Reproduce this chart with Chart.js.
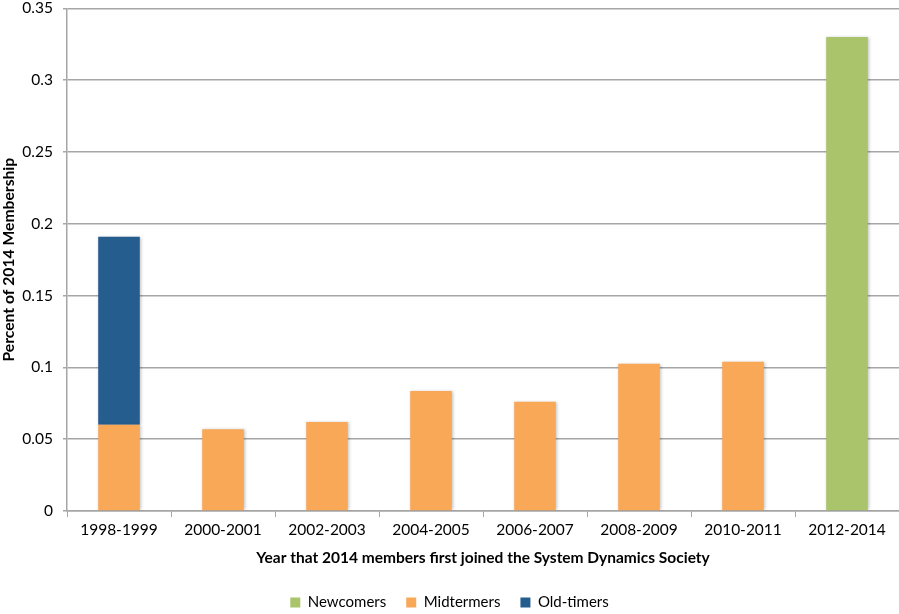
<!DOCTYPE html>
<html><head><meta charset="utf-8">
<script src="https://cdn.jsdelivr.net/npm/chart.js@4/dist/chart.umd.min.js"></script>
<style>html,body{margin:0;padding:0;background:#fff;overflow:hidden}#wrap{position:relative;width:899px;height:614px;overflow:hidden}#c{position:absolute;left:0;top:-11px}</style>
</head><body><div id="wrap"><canvas id="c" width="899" height="631"></canvas></div>
<script>
const categories = ["1998-1999","2000-2001","2002-2003","2004-2005","2006-2007","2008-2009","2010-2011","2012-2014"];
const newcomers  = [0, 0, 0, 0, 0, 0, 0, 0.33];
const midtermers = [0.06, 0.057, 0.062, 0.0835, 0.076, 0.1025, 0.104, 0];
const oldtimers  = [0.131, 0, 0, 0, 0, 0, 0, 0];
const yTicks = [0, 0.05, 0.1, 0.15, 0.2, 0.25, 0.3, 0.35];

const FONT = "Lato, 'Open Sans', sans-serif";
const shadowPlugin = {
  id: 'barShadow',
  beforeDatasetsDraw(chart) { const c = chart.ctx; c.save(); c.shadowColor = 'rgba(0,0,0,0.25)'; c.shadowBlur = 3; c.shadowOffsetX = 1; c.shadowOffsetY = 0; },
  afterDatasetsDraw(chart) { chart.ctx.restore(); }
};

new Chart(document.getElementById('c'), {
  type: 'bar',
  data: {
    labels: categories,
    datasets: [
      { label: 'Newcomers', data: newcomers, backgroundColor: '#A9C46A', stack: 's', barPercentage: 0.4, categoryPercentage: 1 },
      { label: 'Midtermers', data: midtermers, backgroundColor: '#F9A857', stack: 's', barPercentage: 0.4, categoryPercentage: 1 },
      { label: 'Old-timers', data: oldtimers, backgroundColor: '#265D8F', stack: 's', barPercentage: 0.4, categoryPercentage: 1 }
    ]
  },
  plugins: [shadowPlugin],
  options: {
    responsive: false,
    animation: false,
    layout: { padding: 0 },
    plugins: {
      tooltip: { enabled: false },
      legend: {
        position: 'bottom',
        labels: { font: { family: FONT, size: 15 }, color: '#000', boxWidth: 10, boxHeight: 10, padding: 20 }
      }
    },
    scales: {
      x: {
        stacked: true,
        grid: { display: true, drawOnChartArea: false, offset: true, tickLength: 6, color: '#a6a6a6' },
        border: { color: '#a6a6a6', width: 1.5 },
        ticks: { font: { family: FONT, size: 15.5 }, color: '#000', padding: 4, maxRotation: 0 },
        title: { display: true, text: 'Year that 2014 members first joined the System Dynamics Society', font: { family: FONT, size: 15.5, weight: 'bold' }, color: '#000', padding: { top: 0, bottom: 8 } },
        afterFit(s) { s.height = 64; }
      },
      y: {
        stacked: true,
        min: 0, max: 0.35,
        afterBuildTicks(s) { s.ticks = yTicks.map(v => ({ value: v })); },
        grid: { color: '#a6a6a6', lineWidth: 1.5, tickLength: 4 },
        border: { color: '#a6a6a6', width: 1.5 },
        ticks: { font: { family: FONT, size: 15.5 }, color: '#000', padding: 10, callback: v => String(v) },
        title: { display: true, text: 'Percent of 2014 Membership', font: { family: FONT, size: 15.7, weight: 'bold' }, color: '#000', padding: { top: 0, bottom: 2 } },
        afterFit(s) { s.width = 67; }
      }
    }
  }
});
</script></body></html>
